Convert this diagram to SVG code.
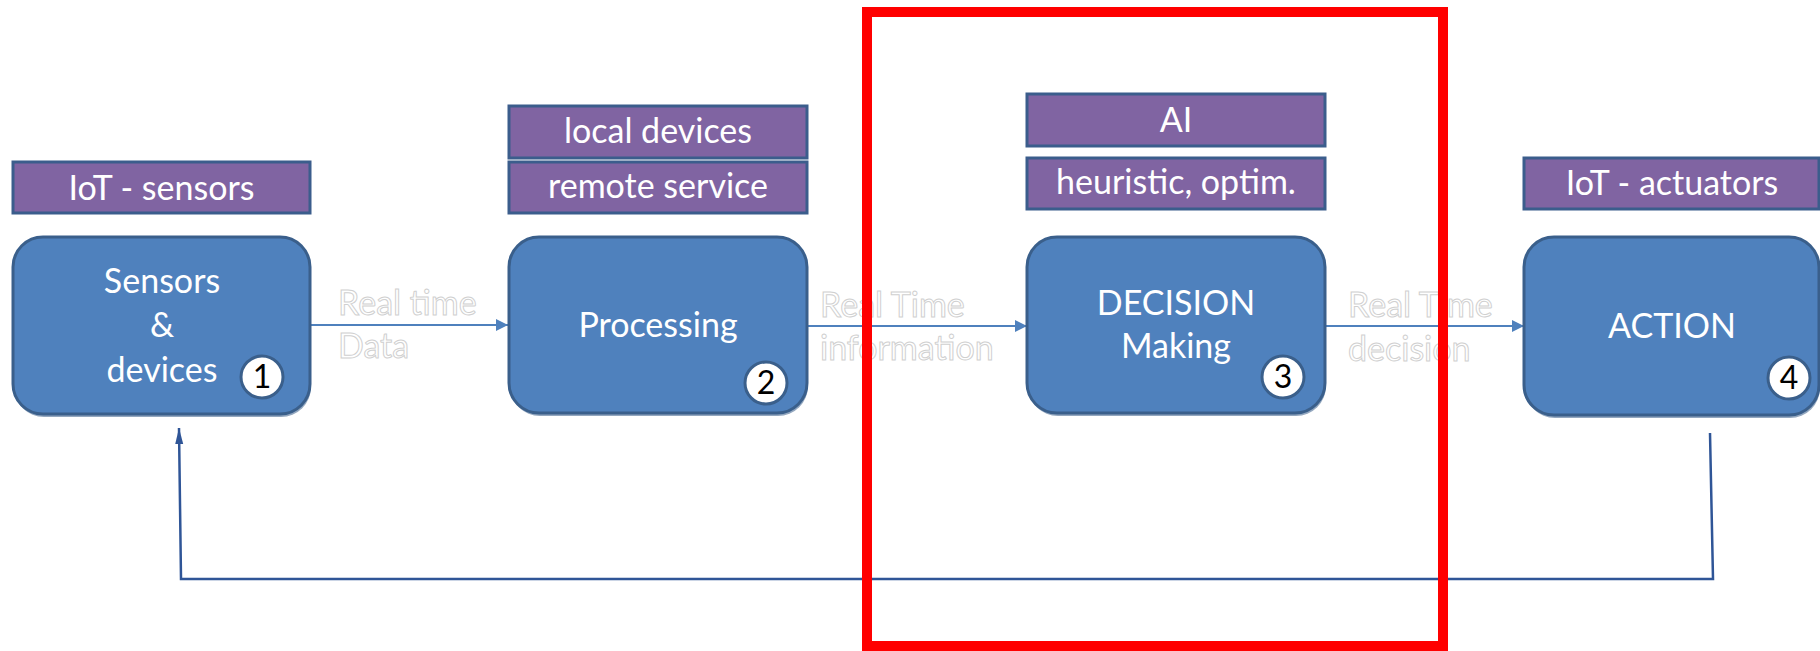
<svg xmlns="http://www.w3.org/2000/svg" width="1820" height="651" viewBox="0 0 1820 651">
<defs>
<style>
.tag{fill:#8064A2;stroke:#3B5D8C;stroke-width:3}
.node{fill:#4F81BD;stroke:#3A5F8B;stroke-width:3}
.shadow{fill:#3A5F8B;opacity:0.55}
.t{font-family:Lato,"Open Sans",sans-serif;font-size:34px;fill:#ffffff;text-anchor:middle}
.num{fill:#ffffff;stroke:#3A5F8B;stroke-width:3}
.nt{font-family:Lato,"Open Sans",sans-serif;font-size:32px;fill:#000000;text-anchor:middle}
.lbl{font-family:Lato,"Open Sans",sans-serif;font-size:34px;fill:#ffffff;stroke:#d0d0d0;stroke-width:1}
.conn{stroke:#4F81BD;stroke-width:2;fill:none}
.fb{stroke:#2F5597;stroke-width:2.5;fill:none}
</style>
<marker id="ah" viewBox="0 0 10 10" refX="10" refY="5" markerWidth="12" markerHeight="12" markerUnits="userSpaceOnUse" orient="auto">
<path d="M0,0 L10,5 L0,10 z" fill="#4F81BD"/>
</marker>
<marker id="ah2" viewBox="0 0 16 10" refX="16" refY="5" markerWidth="16" markerHeight="10" markerUnits="userSpaceOnUse" orient="auto">
<path d="M0,1 L16,5 L0,9 z" fill="#2F5597"/>
</marker>
</defs>

<g id="connectors">
<line class="conn" x1="311" y1="325" x2="508" y2="325" marker-end="url(#ah)"/>
<line class="conn" x1="808" y1="326" x2="1027" y2="326" marker-end="url(#ah)"/>
<line class="conn" x1="1326" y1="326" x2="1524" y2="326" marker-end="url(#ah)"/>
<path class="fb" d="M1710,433 L1713,579 L181,579 L179,428" marker-end="url(#ah2)"/>
<text class="lbl" x="338" y="315">Real time</text>
<text class="lbl" x="338" y="358">Data</text>
<text class="lbl" x="820" y="317">Real Time</text>
<text class="lbl" x="820" y="360">information</text>
<text class="lbl" x="1348" y="317">Real Time</text>
<text class="lbl" x="1348" y="361">decision</text>
</g>

<g id="tag-iot-sensors">
<rect class="tag" x="13" y="162" width="297" height="51"/>
<text class="t" x="161.5" y="200">IoT - sensors</text>
</g>
<g id="tag-local-devices">
<rect class="tag" x="509" y="106" width="298" height="52"/>
<text class="t" x="658" y="143">local devices</text>
</g>
<g id="tag-remote-service">
<rect class="tag" x="509" y="162" width="298" height="51"/>
<text class="t" x="658" y="198">remote service</text>
</g>
<g id="tag-ai">
<rect class="tag" x="1027" y="94" width="298" height="52"/>
<text class="t" x="1176" y="132">AI</text>
</g>
<g id="tag-heuristic">
<rect class="tag" x="1027" y="158" width="298" height="51"/>
<text class="t" x="1176" y="194">heuristic, optim.</text>
</g>
<g id="tag-iot-actuators">
<rect class="tag" x="1524" y="158" width="295" height="51"/>
<text class="t" x="1672" y="195">IoT - actuators</text>
</g>

<g id="node-sensors">
<rect class="shadow" x="14" y="240" width="297" height="177" rx="30"/>
<rect class="node" x="13" y="237" width="297" height="177" rx="30"/>
<text class="t" x="162" y="293">Sensors</text>
<text class="t" x="162" y="337">&amp;</text>
<text class="t" x="162" y="382">devices</text>
<circle class="num" cx="262" cy="377" r="21"/>
<text class="nt" x="262" y="388">1</text>
</g>
<g id="node-processing">
<rect class="shadow" x="510" y="240" width="298" height="176" rx="30"/>
<rect class="node" x="509" y="237" width="298" height="176" rx="30"/>
<text class="t" x="658" y="337">Processing</text>
<circle class="num" cx="766" cy="383" r="21"/>
<text class="nt" x="766" y="394">2</text>
</g>
<g id="node-decision">
<rect class="shadow" x="1028" y="240" width="298" height="176" rx="30"/>
<rect class="node" x="1027" y="237" width="298" height="176" rx="30"/>
<text class="t" x="1176" y="315">DECISION</text>
<text class="t" x="1176" y="358">Making</text>
<circle class="num" cx="1283" cy="377" r="21"/>
<text class="nt" x="1283" y="388">3</text>
</g>
<g id="node-action">
<rect class="shadow" x="1525" y="240" width="295" height="178" rx="30"/>
<rect class="node" x="1524" y="237" width="295" height="178" rx="30"/>
<text class="t" x="1672" y="338">ACTION</text>
<circle class="num" cx="1789" cy="378" r="21"/>
<text class="nt" x="1789" y="389">4</text>
</g>

<g id="highlight">
<rect x="867" y="12" width="576" height="634" fill="none" stroke="#FF0000" stroke-width="10"/>
</g>
</svg>
